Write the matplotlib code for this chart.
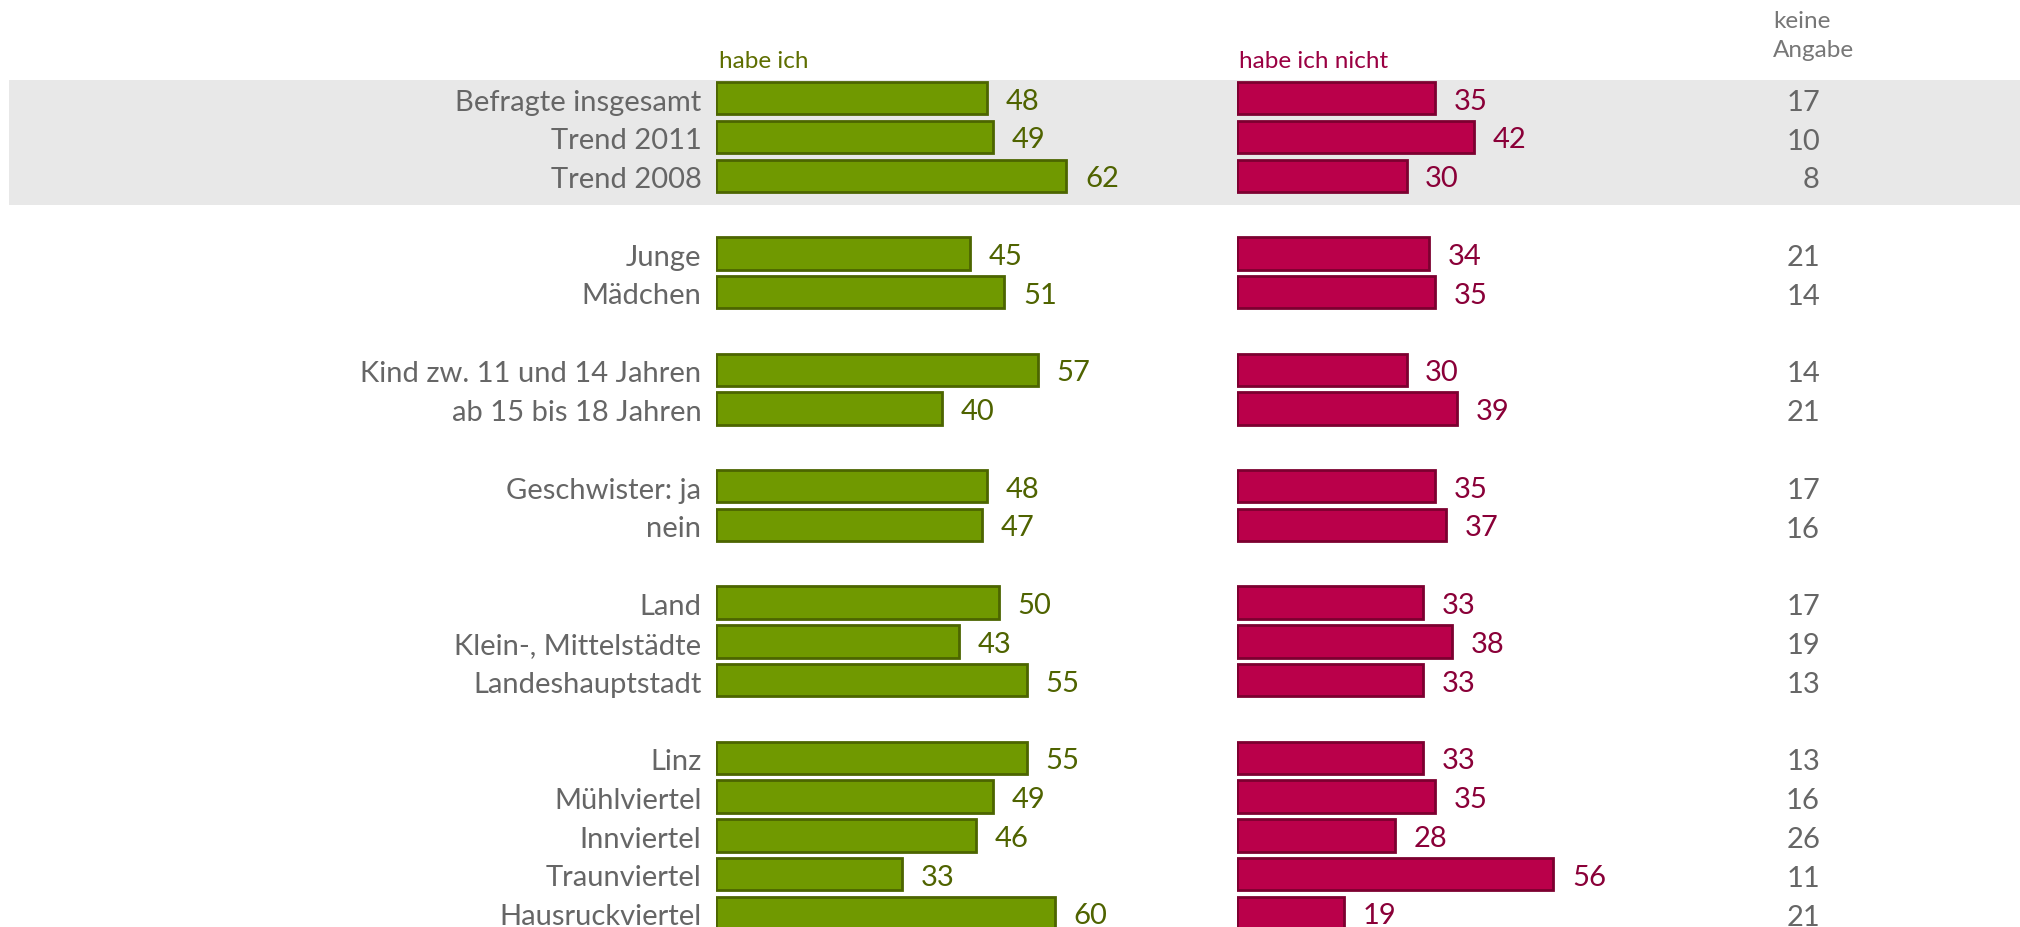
import numpy as np
import matplotlib
matplotlib.use("Agg")
import matplotlib.pyplot as plt
import matplotlib.transforms as mtransforms

plt.rcParams['font.family'] = ['Lato', 'DejaVu Sans']

# Kategorien, in Gruppen (zwischen den Gruppen bleibt eine Zeile frei)
gruppen = [
    ["Befragte insgesamt", "Trend 2011", "Trend 2008"],
    ["Junge", "Mädchen"],
    ["Kind zw. 11 und 14 Jahren", "ab 15 bis 18 Jahren"],
    ["Geschwister: ja", "nein"],
    ["Land", "Klein-, Mittelstädte", "Landeshauptstadt"],
    ["Linz", "Mühlviertel", "Innviertel", "Traunviertel", "Hausruckviertel"],
]
habe_ich = [48, 49, 62, 45, 51, 57, 40, 48, 47, 50, 43, 55, 55, 49, 46, 33, 60]
habe_ich_nicht = [35, 42, 30, 34, 35, 30, 39, 35, 37, 33, 38, 33, 33, 35, 28, 56, 19]
keine_angabe = [17, 10, 8, 21, 14, 14, 21, 17, 16, 17, 19, 13, 13, 16, 26, 11, 21]

# Zeilenpositionen
labels, pos = [], []
zeile = 0
for g in gruppen:
    for name in g:
        labels.append(name)
        pos.append(zeile)
        zeile += 1
    zeile += 1
pos = np.array(pos)

W, H = 2020, 928
fig = plt.figure(figsize=(W / 100, H / 100), dpi=100)

row_px = 38.8
top_px = 99.2
ylim = ((H - top_px) / row_px, -top_px / row_px)  # invertiert
px_per_unit = 5.65
xmax = 80

grau = "#666666"
gruen, gruen_rand, gruen_text = "#709900", "#4C6500", "#4F6300"
rot, rot_rand, rot_text = "#BA004A", "#7C0030", "#8A0038"


def runter(px):
    return mtransforms.ScaledTranslation(0, -px / 100, fig.dpi_scale_trans)


# Hintergrundband fuer die Gesamtwerte
ax_bg = fig.add_axes([9 / W, 0, 1 - 9 / W, 1])
ax_bg.set_ylim(ylim)
ax_bg.set_xlim(0, 1)
ax_bg.axhspan(-0.47, 2.75, color="#E8E8E8", lw=0)
ax_bg.axis("off")


def balken(links_px, werte, farbe, rand, textfarbe, mit_labels=False):
    ax = fig.add_axes([links_px / W, 0, xmax * px_per_unit / W, 1])
    ax.patch.set_alpha(0)
    ax.set_xlim(0, xmax)
    ax.set_ylim(ylim)
    ax.barh(pos, werte, height=0.83, color=farbe, edgecolor=rand, linewidth=2)
    for y, v in zip(pos, werte):
        ax.annotate(str(v), (v, y), xytext=(13.5, -1.8), textcoords="offset points",
                    va="center", ha="left", fontsize=21, color=textfarbe)
    for s in ax.spines.values():
        s.set_visible(False)
    ax.set_xticks([])
    if mit_labels:
        ax.set_yticks(pos, labels)
        ax.tick_params(axis="y", length=0, pad=10.5, labelsize=21, labelcolor=grau)
        for lbl in ax.get_yticklabels():
            lbl.set_transform(lbl.get_transform() + runter(0.8))
    else:
        ax.set_yticks([])
    return ax


ax_g = balken(716, habe_ich, gruen, gruen_rand, gruen_text, mit_labels=True)
ax_r = balken(1237, habe_ich_nicht, rot, rot_rand, rot_text)

# Spalte "keine Angabe"
trans = mtransforms.blended_transform_factory(fig.transFigure, ax_g.transData)
for y, v in zip(pos, keine_angabe):
    fig.text(1820 / W, y, str(v), transform=trans + runter(3.5), ha="right", va="center",
             fontsize=21, color=grau)

# Spaltenueberschriften
fig.text(719 / W, 1 - 61 / H, "habe ich", ha="left", va="center",
         fontsize=17.5, color="#5E6E00")
fig.text(1239 / W, 1 - 61 / H, "habe ich nicht", ha="left", va="center",
         fontsize=17.5, color="#9A0042")
fig.text(1773 / W, 1 - 36 / H, "keine\nAngabe", ha="left", va="center",
         fontsize=17.5, color="#777777", linespacing=1.5)

fig.savefig("out.png", dpi=100)
